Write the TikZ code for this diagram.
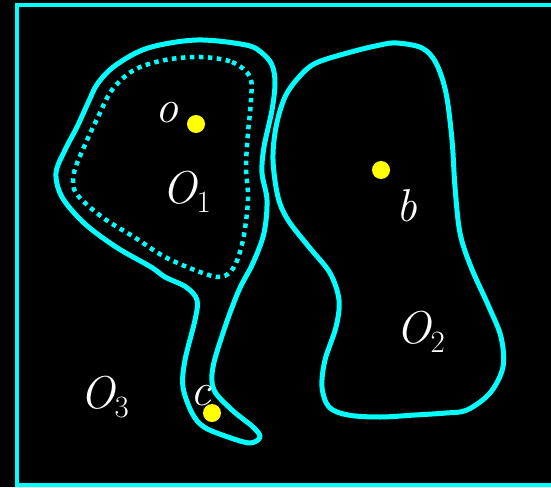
\documentclass[tikz,border=0pt]{standalone}
\usepackage{fontspec}
\begin{document}
\begin{tikzpicture}[x=1pt,y=-1pt,
  region/.style={draw=cyanc,line width=5pt,line join=round},
  inner/.style={draw=cyanc,line width=4.5pt,dash pattern=on 4.5pt off 4.5pt},
  pointdot/.style={circle,fill=yellowc,inner sep=0pt,minimum size=18pt},
  lbl/.style={text=white,inner sep=0pt,anchor=base west,font=\fontsize{46}{46}\selectfont\itshape}]
\definecolor{cyanc}{RGB}{0,255,255}
\definecolor{yellowc}{RGB}{255,255,0}
\newcommand{\subnum}[1]{\raisebox{-9pt}{\fontsize{31}{31}\selectfont\upshape #1}}
\useasboundingbox (0,0) rectangle (551,487);
\clip (0,0) rectangle (551,487);
\fill[black] (0,0) rectangle (551,487);
\draw[draw=cyanc,line width=4.5pt] (17,5) rectangle (570,485);
% O1 outer
\draw[region] plot[smooth cycle,tension=0.55] coordinates {
 (197,40) (246,45) (262,53) (272,65) (275,83) (272,110) (264,147) (262,173)
 (267,200) (264,233) (253,263) (239,290) (225,327) (213,367) (214,390)
 (232,410) (253,427) (260,437) (250,443) (228,437) (204,427) (192,413)
 (183,387) (185,360) (195,320) (197,300) (186,287) (165,277) (151,267)
 (116,247) (84,223) (62,197) (56,173) (65,150) (77,127) (88,103) (98,83)
 (116,65) (148,48)};
% O1 inner dotted
\draw[inner] plot[smooth cycle,tension=0.55] coordinates {
 (200,57) (232,62) (250,77) (251,100) (248,133) (246,167) (248,200)
 (243,240) (234,267) (221,277) (200,272) (165,257) (134,237) (102,217)
 (76,193) (74,173) (84,147) (98,117) (112,90) (134,70) (165,60)};
% O2
\draw[region] plot[smooth cycle,tension=0.55] coordinates {
 (397,43) (422,48) (436,63) (446,93) (452,140) (455,187) (460,233)
 (471,267) (489,307) (501,337) (503,367) (490,393) (467,410) (446,413)
 (415,415) (380,417) (348,415) (329,407) (322,387) (325,360) (336,327)
 (339,300) (330,273) (309,247) (288,220) (278,197) (273,160) (276,127)
 (285,97) (299,77) (316,63) (351,52) (380,45)};
% points
\node[pointdot] (po) at (196,124) {};
\node[pointdot] (pb) at (381,170) {};
\node[pointdot] (pc) at (212,413) {};
% labels
\node[lbl] (lo) at (155,122) {o};
\node[lbl] (lO1) at (162,203) {O\subnum{1}};
\node[lbl] (lb) at (396,221) {b};
\node[lbl] (lO2) at (396,343) {O\subnum{2}};
\node[lbl] (lO3) at (80,408) {O\subnum{3}};
\node[lbl] (lc) at (190,405) {c};
\end{tikzpicture}
\end{document}
